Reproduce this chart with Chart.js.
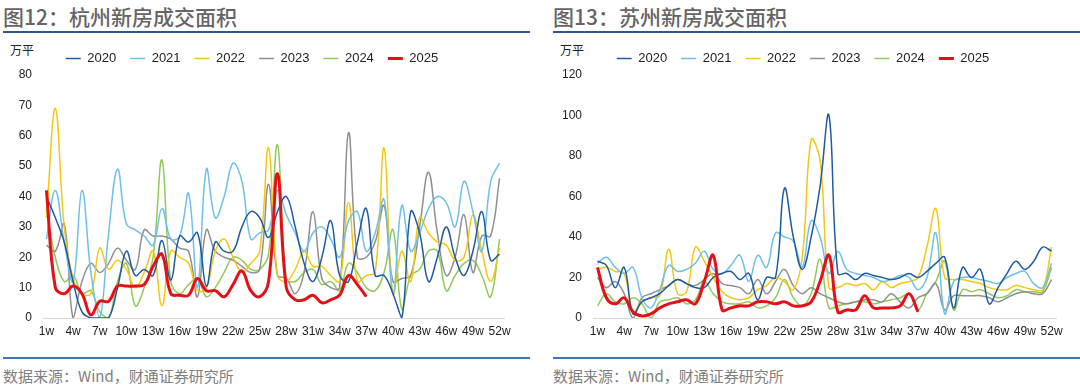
<!DOCTYPE html>
<html>
<head>
<meta charset="utf-8">
<script src="https://cdn.jsdelivr.net/npm/chart.js@4.4.0/dist/chart.umd.min.js"></script>
<style>
  body { margin: 0; width: 1080px; height: 387px; background: #fff; position: relative; overflow: hidden; font-family: 'Noto Sans CJK SC', sans-serif; }
  .panel { position: absolute; top: 0; width: 535px; height: 387px; }
  .title { position: absolute; left: 3px; top: 1px; font-size: 21px; color: #656565; font-weight: 500; white-space: nowrap; }
  .rule { position: absolute; left: 3px; width: 527px; height: 2px; background: #2b5691; }
  .rule.bottom { background: #3b78b8; }
  .unit { position: absolute; left: 10px; top: 41px; font-size: 12px; color: #222; }
  .src { position: absolute; left: 3px; top: 365px; font-size: 15px; color: #808080; white-space: nowrap; }
  .box { position: absolute; left: 0; top: 37px; width: 535px; height: 305px; }
</style>
</head>
<body>

<div class="panel" style="left:0">
  <div class="title">图12：杭州新房成交面积</div>
  <div class="rule" style="top:31px"></div>
  <div class="unit">万平</div>
  <div class="box"><canvas id="hzChart"></canvas></div>
  <div class="rule bottom" style="top:357px"></div>
  <div class="src">数据来源：Wind，财通证券研究所</div>
</div>

<div class="panel" style="left:550px">
  <div class="title">图13：苏州新房成交面积</div>
  <div class="rule" style="top:31px"></div>
  <div class="unit">万平</div>
  <div class="box"><canvas id="szChart"></canvas></div>
  <div class="rule bottom" style="top:357px"></div>
  <div class="src">数据来源：Wind，财通证券研究所</div>
</div>

<script>
// weeks 1w..52w
const weeks = [];
for (let i = 1; i <= 52; i++) weeks.push(i + 'w');

const years = ['2020', '2021', '2022', '2023', '2024', '2025'];
const colors = ['#1f5ba0', '#6fc0e8', '#f5c710', '#8f8f8f', '#92c95a', '#e60f17'];

// 杭州 (万平)
const hz2020 = [40,33,25,12,2,0,0,0,10,22,14,16,14,25.5,12.5,27,25,28,10.5,25,22,22,30,35,33,26.5,35,40,30,18,12,20,32,14,12,25,36,14,14,8,0,35,28,12,20,30,20,14,22,35,19,21];
const hz2021 = [26,42,25,12,42,15,0,28,49,31,29,27,24,36,26,27,41,10,49,33,40,51,45,26,28,29,42,34,28,22,28,30,26,20,32,35,22,28,39,8,37,22,28,36,40,38,30,45,35,22,45,51];
const hz2022 = [33,69,30,13,8,8,23,16,19,16,10,15,22,4,22,20,18,9,10,22,26,20,15,18,22,56,14,12,16,22,17,17,14,12,38,12,14,15,56,8,22,12,33,28,25,24,19,20,34,22,12,23];
const hz2023 = [24,22,31,0,12,18,15,18,23,19,16,29,27,27,26,23,22,7,29,22,20,19,17,15,16,44,14,13,8,15,35,13,10,10,61,20,20,25,37,12,13,14,30,48,28,14,20,34,15,27,27,46];
const hz2024 = [36,20,12,14,8,9,2,0,12,18,4,10,20,52,12,8,11,13,7,10,15,20,19,16,16,21,57,13,12,15,16,11,12,9,18,15,10,9,15,29,3,14,16,22,22,9,14,18,19,14,7,26];
const hz2025 = [42,10,8,10.5,8,1,5.5,5.5,10.5,10.5,10.5,11,17,21,8,7.5,7.5,13,9,9,7,11,15.5,9,7,12,47.5,10,6,6,7.5,5,6,7.5,14,11,7];

// 苏州 (万平)
const sz2020 = [28,26,15,25,2,8,10,12,16,19,17,15,15,20,22,23,19,22,9,20,20,64,40,24,40,65,100,22,22,19,22,21,20,19,20,22,20,23,27,30,5,25,20,24,7,15,22,28,24,28,35,33];
const sz2021 = [27,30,25,22,25,10,5,14,26,23,24,27,33,24,22,26,31,18,31,25,42,40,38,25,48,40,22,33,24,22,21,20,18,19,21,20,14,20,42,2,18,20,20,19,18,17,20,22,23,17,15,27];
const sz2022 = [24,25,23,22,3,8,10,11,34,12,13,35,28,20,13,10,9,10,14,16,20,18,14,30,88,78,15,15,17,16,17,14,18,15,17,18,20,35,54,20,19,19,18,17,15,14,14,16,15,14,14,35];
const sz2023 = [20,15,18,12,0,10,12,14,16,19,17,16,19,22,17,16,15,12,19,12,18,24,16,12,15,12,10,8,7,8,9,9,8,12,8,5,10,12,17,4,11,11,11,11,10,8,10,12,13,12,12,19];
const sz2024 = [6,12,8,7,10,7,0,8,9,10,7,9,18,12,8,7,7,8,5,6,10,19,10,6,12,29,5,6,7,8,8,7,8,9,10,12,4,12,18,28,4,14,13,14,12,10,11,14,13,13,13,25];
const sz2025 = [25,10,7,10,3,1,2,5,7,8,9,7,18,31,4,5,6,6,8,8,7,8,6,6,8,18,31,3,4,4,11,5,5,5,6,12,3];

const tickFont = { family: "'Liberation Sans', Arial, sans-serif", size: 12 };

function makeChart(id, series, yMax, yStep, axisW, tickPad, rightPad) {
  const datasets = series.map((vals, i) => ({
    label: years[i],
    data: vals,
    borderColor: colors[i],
    backgroundColor: colors[i],
    borderWidth: i === 5 ? 3 : 1.5,
    pointRadius: 0,
    tension: 0.4,
    fill: false,
    order: i === 5 ? 0 : 1   // red line on top
  }));

  new Chart(document.getElementById(id), {
    type: 'line',
    data: { labels: weeks, datasets: datasets },
    options: {
      responsive: true,
      maintainAspectRatio: false,
      animation: false,
      layout: { padding: { top: 1, right: rightPad, left: 0, bottom: 0 } },
      plugins: {
        legend: {
          position: 'top',
          labels: {
            usePointStyle: true,
            pointStyle: 'line',
            pointStyleWidth: 15,
            padding: 14,
            color: '#222',
            font: { family: "'Liberation Sans', Arial, sans-serif", size: 13 },
            sort: (a, b) => a.datasetIndex - b.datasetIndex
          }
        },
        tooltip: { enabled: false }
      },
      scales: {
        x: {
          offset: true,
          grid: { display: false, drawTicks: false },
          border: { display: true, color: '#d9d9d9', width: 1 },
          ticks: {
            autoSkip: false,
            maxRotation: 0,
            padding: 6,
            color: '#222',
            font: tickFont,
            callback: function (val, i) { return i % 3 === 0 ? this.getLabelForValue(val) : ''; }
          },
          afterFit: s => { s.height = 24; }
        },
        y: {
          min: 0,
          max: yMax,
          grid: { display: false, drawTicks: false },
          border: { display: false },
          ticks: { stepSize: yStep, padding: tickPad, color: '#222', font: tickFont },
          afterFit: s => { s.width = axisW; }
        }
      }
    }
  });
}

makeChart('hzChart', [hz2020, hz2021, hz2022, hz2023, hz2024, hz2025], 80, 10, 42, 10, 31);
makeChart('szChart', [sz2020, sz2021, sz2022, sz2023, sz2024, sz2025], 120, 20, 43, 11, 29);
</script>
</body>
</html>
